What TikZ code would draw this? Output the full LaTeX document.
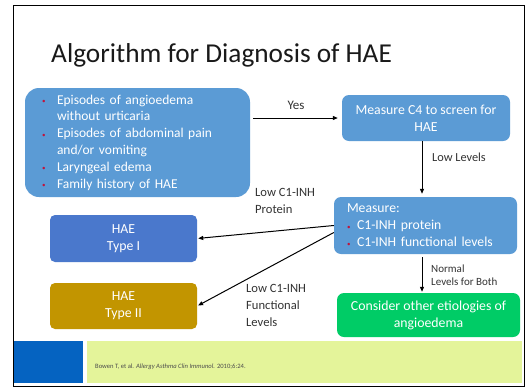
\documentclass[tikz,border=0pt]{standalone}
\usepackage{fontspec}
\setmainfont{Carlito}
\usetikzlibrary{arrows.meta,calc}
\definecolor{lblue}{HTML}{5B9BD5}
\definecolor{typeone}{HTML}{4A78CC}
\definecolor{typetwo}{HTML}{C29500}
\definecolor{etiol}{HTML}{00CC66}
\definecolor{footblue}{HTML}{0563C1}
\definecolor{footyellow}{HTML}{E4F49A}
\definecolor{bulred}{HTML}{C0143C}
\definecolor{labgray}{HTML}{333333}
\newcommand{\bul}[1]{\makebox[#1][l]{\textcolor{bulred}{\raisebox{0.5pt}{\scriptsize\textbullet}}}}
\begin{document}
\begin{tikzpicture}[x=1pt,y=-1pt,
  box/.style={rectangle, rounded corners=7pt, fill=lblue, text=white, inner sep=0pt,
    font=\fontsize{13.8}{17}\selectfont, align=center},
  lab/.style={inner sep=0pt, text=labgray, align=left, anchor=west},
  arr/.style={-{Triangle[length=5pt,width=4pt]}, line width=1pt, black}]
\useasboundingbox (0,0) rectangle (528,389);
\fill[white] (0,0) rectangle (528,389);
% footer bands
\fill[footblue] (13,341) rectangle (83,383);
\fill[footyellow] (87,341) rectangle (522,383);
\draw[line width=0.9pt] (13,5) rectangle (524,386);
% title
\node[inner sep=0pt, anchor=base west, font=\fontsize{27.3}{32}\selectfont, text=black!90] (title) at (51,62) {Algorithm for Diagnosis of HAE};
% boxes
\node[box, rounded corners=14pt, minimum width=225pt, minimum height=109pt, text width=191pt, align=left, font=\fontsize{13.5}{16.8}\selectfont] (sym) at (137.5,142.5)
 {\bul{15pt}Episodes of angioedema\\ \hspace*{15pt}without urticaria\\ \bul{15pt}Episodes of abdominal pain\\ \hspace*{15pt}and/or vomiting\\ \bul{15pt}Laryngeal edema\\ \bul{15pt}Family history of HAE};
\node[box, minimum width=168pt, minimum height=46pt] (c4) at (426,118) {Measure C4 to screen for\\HAE};
\node[box, minimum width=183pt, minimum height=57pt, text width=157pt, align=left, font=\fontsize{13.7}{17}\selectfont] (meas) at (425.5,225.5)
 {Measure:\\ \bul{10pt}C1-INH protein\\ \bul{10pt}C1-INH functional levels};
\node[box, fill=etiol, minimum width=183pt, minimum height=44pt] (other) at (428.5,315) {Consider other etiologies of\\angioedema};
\node[box, fill=typeone, rounded corners=5pt, minimum width=147pt, minimum height=47pt] (t1) at (123.5,238.5) {HAE\\Type I};
\node[box, fill=typetwo, rounded corners=5pt, minimum width=147pt, minimum height=46pt] (t2) at (123.5,306) {HAE\\Type II};
% arrows
\draw[arr, shorten <=3pt, shorten >=4pt] (sym.east |- c4.west) -- (c4.west);
\draw[arr, shorten >=3pt] ($(c4.south)+(-4,0)$) -- ($(meas.north)+(-3.5,0)$);
\draw[arr, shorten <=3pt, shorten >=1pt] ($(meas.south)+(-3.5,0)$) -- ($(other.north)+(-6.5,0)$);
\draw[arr, shorten >=1pt] (meas.west) -- (t1.east);
\draw[arr, shorten >=1pt] ($(meas.west)+(0,7)$) -- (t2.east);
% labels
\node[lab, anchor=center, font=\fontsize{13}{15}\selectfont] (yes) at (296,105) {Yes};
\node[lab, font=\fontsize{12.3}{14}\selectfont] (lowlev) at (432,157) {Low Levels};
\node[lab, font=\fontsize{11}{12.5}\selectfont] (normal) at (431,275) {Normal\\Levels for Both};
\node[lab, font=\fontsize{12.6}{17}\selectfont] (lowprot) at (255,200.5) {Low C1-INH\\Protein};
\node[lab, font=\fontsize{12.6}{17}\selectfont] (lowfunc) at (246,305) {Low C1-INH\\Functional\\Levels};
\node[lab, text=black!70, font=\fontsize{6.6}{8}\selectfont] (cite) at (95,367) {Bowen T, et al. \textit{Allergy Asthma Clin Immunol.} 2010;6:24.};
\end{tikzpicture}
\end{document}
